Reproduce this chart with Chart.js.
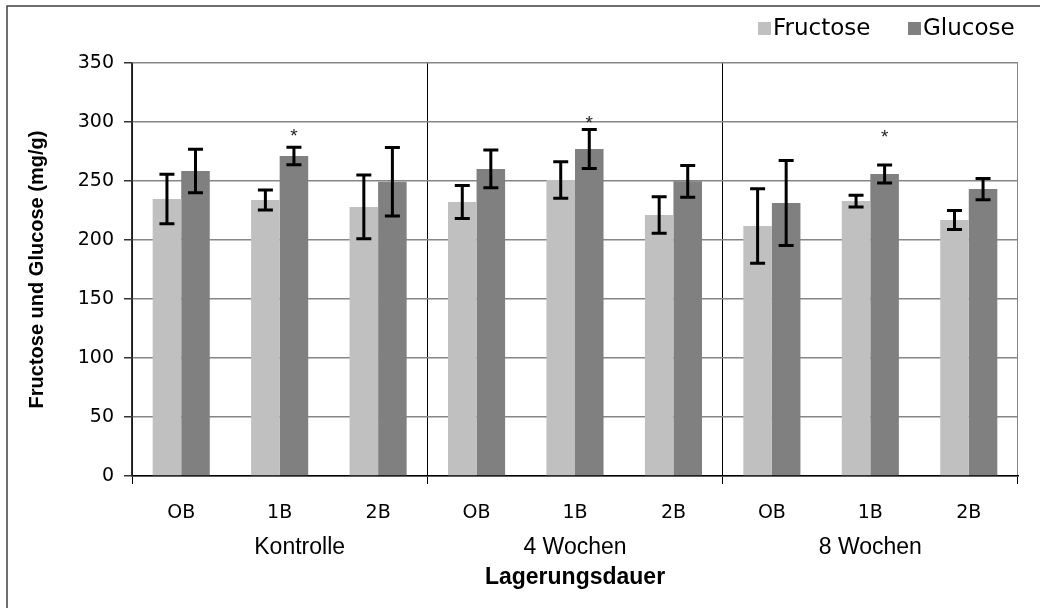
<!DOCTYPE html>
<html>
<head>
<meta charset="utf-8">
<script src="https://cdn.jsdelivr.net/npm/chart.js@4.4.1/dist/chart.umd.min.js"></script>
<style>
  html, body { margin: 0; padding: 0; background: #fff; }
  #wrap { width: 1040px; height: 608px; position: relative; }
</style>
</head>
<body>
<div id="wrap"><canvas id="c" width="1040" height="608"></canvas></div>
<script>
// Storage duration groups and berry position within each group
const categories = ['OB', '1B', '2B', 'OB', '1B', '2B', 'OB', '1B', '2B'];
const groups = ['Kontrolle', '4 Wochen', '8 Wochen'];

// Sugar content in mg/g, with standard deviations
const fructose    = [234.7, 233.9, 228.0, 232.2, 250.8, 221.2, 211.9, 233.0, 216.9];
const fructoseErr = [21.0, 8.5, 27.0, 14.0, 15.5, 15.5, 31.5, 5.0, 8.0];
const glucose     = [258.5, 271.2, 249.4, 260.2, 277.1, 249.7, 231.4, 255.9, 243.2];
const glucoseErr  = [18.5, 7.5, 29.0, 16.0, 16.5, 13.5, 36.0, 7.6, 9.0];

// Significance markers (*) above glucose bars, placed at these values
const glucoseMarks = [null, 291, null, null, 302, null, null, 290, null];

const yTicks = [0, 50, 100, 150, 200, 250, 300, 350];

const seriesNames = ['Fructose', 'Glucose'];
const seriesColors = ['#c0c0c0', '#808080'];
const xTitle = 'Lagerungsdauer';
const yTitle = 'Fructose und Glucose (mg/g)';

const tickFont = "'Century Gothic', 'DejaVu Sans', sans-serif";
const textFont = "'Liberation Sans', Arial, sans-serif";

// Error bars and significance markers
const errorBarPlugin = {
  id: 'errorBars',
  afterDatasetsDraw(chart) {
    const ctx = chart.ctx;
    const y = chart.scales.y;
    const errs = [fructoseErr, glucoseErr];
    ctx.save();
    ctx.strokeStyle = '#000';
    ctx.lineWidth = 3;
    chart.data.datasets.forEach((ds, di) => {
      const meta = chart.getDatasetMeta(di);
      meta.data.forEach((bar, i) => {
        const v = ds.data[i];
        const e = errs[di][i];
        const yt = y.getPixelForValue(v + e);
        const yb = y.getPixelForValue(v - e);
        const half = 7.5;
        ctx.beginPath();
        ctx.moveTo(bar.x, yt); ctx.lineTo(bar.x, yb);
        ctx.moveTo(bar.x - half, yt); ctx.lineTo(bar.x + half, yt);
        ctx.moveTo(bar.x - half, yb); ctx.lineTo(bar.x + half, yb);
        ctx.stroke();
      });
    });
    const gMeta = chart.getDatasetMeta(1);
    ctx.fillStyle = '#222';
    ctx.font = "19px " + textFont;
    ctx.textAlign = 'center';
    ctx.textBaseline = 'middle';
    glucoseMarks.forEach((m, i) => {
      if (m === null) return;
      ctx.fillText('*', gMeta.data[i].x, y.getPixelForValue(m) + 4);
    });
    ctx.restore();
  }
};

// Group labels, axis titles, legend and frame
const decorPlugin = {
  id: 'decor',
  afterDraw(chart) {
    const ctx = chart.ctx;
    const x = chart.scales.x;
    const area = chart.chartArea;
    ctx.save();

    // frame lines along the left and top edges
    ctx.strokeStyle = '#404040';
    ctx.lineWidth = 1.5;
    ctx.beginPath();
    ctx.moveTo(7, 608); ctx.lineTo(7, 6); ctx.lineTo(1040, 6);
    ctx.stroke();

    // group names under the berry labels; the first one sits a little right of centre
    ctx.fillStyle = '#000';
    ctx.textAlign = 'center';
    ctx.textBaseline = 'middle';
    ctx.font = "23px " + textFont;
    const groupShift = [20, 0, 0];
    groups.forEach((g, gi) => {
      const cx = (x.getPixelForValue(gi * 3) + x.getPixelForValue(gi * 3 + 2)) / 2;
      ctx.fillText(g, cx + groupShift[gi], area.bottom + 72);
    });

    // axis titles
    ctx.font = "bold 23px " + textFont;
    ctx.fillText(xTitle, (area.left + area.right) / 2, area.bottom + 102);
    ctx.font = "bold 20px " + textFont;
    ctx.save();
    ctx.translate(37, (area.top + area.bottom) / 2);
    ctx.rotate(-Math.PI / 2);
    ctx.fillText(yTitle, 0, 0);
    ctx.restore();

    // legend
    ctx.font = "23px " + tickFont;
    ctx.textAlign = 'left';
    const legendX = [758, 908];
    seriesNames.forEach((n, i) => {
      ctx.fillStyle = seriesColors[i];
      ctx.fillRect(legendX[i], 22, 13, 13);
      ctx.fillStyle = '#000';
      ctx.fillText(n, legendX[i] + 15, 29);
    });
    ctx.restore();
  }
};

new Chart(document.getElementById('c'), {
  type: 'bar',
  data: {
    labels: categories,
    datasets: [
      { label: seriesNames[0], data: fructose, backgroundColor: seriesColors[0], borderWidth: 0,
        categoryPercentage: 0.58, barPercentage: 1.0 },
      { label: seriesNames[1], data: glucose, backgroundColor: seriesColors[1], borderWidth: 0,
        categoryPercentage: 0.58, barPercentage: 1.0 }
    ]
  },
  options: {
    responsive: false,
    devicePixelRatio: 1,
    animation: false,
    layout: { padding: { left: 0, top: 63, right: 22, bottom: 0 } },
    plugins: { legend: { display: false }, tooltip: { enabled: false } },
    scales: {
      x: {
        type: 'category',
        offset: true,
        afterFit(s) { s.height = 132; },
        grid: {
          offset: true,
          lineWidth: 1,
          tickLength: 8,
          color: c => c.type !== 'tick' ? '#868686' : (c.index % 3 === 0 ? '#000' : 'rgba(0,0,0,0)'),
          tickColor: c => (c.type !== 'tick' || c.index % 3 === 0) ? '#000' : 'rgba(0,0,0,0)'
        },
        border: { display: true, color: '#000', width: 1.5 },
        ticks: { font: { family: tickFont, size: 19 }, color: '#000', padding: 18, maxRotation: 0 }
      },
      y: {
        min: 0,
        max: 350,
        afterFit(s) { s.width = 132; },
        afterBuildTicks(s) { s.ticks = yTicks.map(v => ({ value: v })); },
        grid: { color: '#868686', lineWidth: 1.5, tickLength: 8, tickColor: '#333' },
        border: { display: true, color: '#333', width: 1.5 },
        ticks: { font: { family: tickFont, size: 19 }, color: '#000', padding: 10 }
      }
    }
  },
  plugins: [errorBarPlugin, decorPlugin]
});
</script>
</body>
</html>
